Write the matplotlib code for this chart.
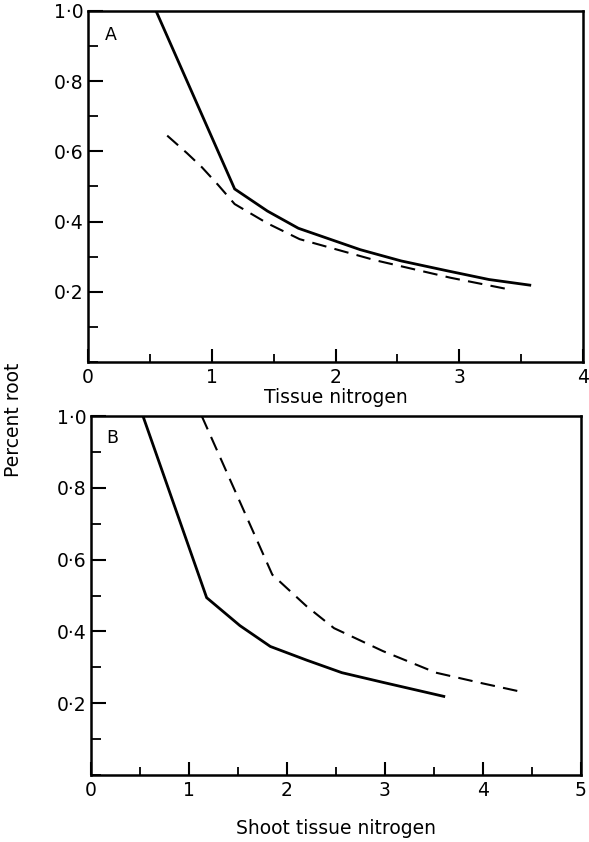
import matplotlib
matplotlib.use("Agg")
import matplotlib.pyplot as plt
from matplotlib.ticker import MultipleLocator, FixedLocator

plt.rcParams['font.family'] = ['DejaVu Sans']

# Panel A data
a_solid_x = [0.55, 1.185, 1.45, 1.70, 2.20, 2.53, 2.90, 3.24, 3.57]
a_solid_y = [1.00, 0.493, 0.430, 0.381, 0.320, 0.288, 0.260, 0.235, 0.219]
a_dash_x = [0.64, 0.80, 0.92, 1.05, 1.185, 1.45, 1.71, 2.32, 2.93, 3.40]
a_dash_y = [0.645, 0.595, 0.555, 0.505, 0.450, 0.395, 0.350, 0.290, 0.240, 0.207]

# Panel B data
b_solid_x = [0.53, 1.18, 1.52, 1.83, 2.20, 2.56, 2.98, 3.60]
b_solid_y = [1.00, 0.494, 0.416, 0.358, 0.320, 0.285, 0.258, 0.219]
b_dash_x = [1.13, 1.85, 2.20, 2.48, 2.98, 3.52, 4.00, 4.42]
b_dash_y = [1.00, 0.558, 0.470, 0.409, 0.345, 0.285, 0.255, 0.230]

y_ticks = [0.2, 0.4, 0.6, 0.8, 1.0]
y_ticklabels = ['0·2', '0·4', '0·6', '0·8', '1·0']

FS = 13.5

fig = plt.figure(figsize=(5.89, 8.42), dpi=100)

def style(ax, xmax, xlabels, label_letter, lx, ly):
    ax.set_xlim(0, xmax)
    ax.set_ylim(0, 1.0)
    for s in ax.spines.values():
        s.set_linewidth(1.8)
    ax.xaxis.set_major_locator(FixedLocator(list(range(0, xmax + 1))))
    ax.xaxis.set_minor_locator(MultipleLocator(0.5))
    ax.set_xticklabels(xlabels)
    ax.yaxis.set_major_locator(FixedLocator(y_ticks))
    ax.yaxis.set_minor_locator(MultipleLocator(0.1))
    ax.set_yticklabels(y_ticklabels)
    ax.tick_params(axis='x', which='major', direction='in', length=9.5,
                   width=1.5, labelsize=FS, pad=4)
    ax.tick_params(axis='x', which='minor', direction='in', length=6, width=1.3)
    ax.tick_params(axis='y', which='major', direction='in', length=11,
                   width=1.5, labelsize=FS, pad=3)
    ax.tick_params(axis='y', which='minor', direction='in', length=7.5, width=1.3)
    ax.text(lx, ly, label_letter, transform=ax.transAxes, fontsize=12.5,
            ha='left', va='top')

# Panel A
axA = fig.add_axes([88/589, 1 - 362/842, (583 - 88)/589, (362 - 11)/842])
axA.plot(a_solid_x, a_solid_y, color='black', lw=2.0, solid_joinstyle='miter')
axA.plot(a_dash_x, a_dash_y, color='black', lw=1.5, dashes=(7, 4))
style(axA, 4, ['0', '1', '2', '3', '4'], 'A', 0.034, 0.957)
axA.set_xlabel('Tissue nitrogen', fontsize=FS, labelpad=1)

# Panel B
axB = fig.add_axes([91/589, 1 - 775/842, (581 - 91)/589, (775 - 416)/842])
axB.plot(b_solid_x, b_solid_y, color='black', lw=2.0, solid_joinstyle='miter')
axB.plot(b_dash_x, b_dash_y, color='black', lw=1.5, dashes=(7, 4))
style(axB, 5, ['0', '1', '2', '3', '4', '5'], 'B', 0.032, 0.963)
axB.set_xlabel('Shoot tissue nitrogen', fontsize=FS, labelpad=14)

fig.text(14/589, 1 - 420/842, 'Percent root', rotation=90, fontsize=FS,
         ha='center', va='center')

fig.savefig('out.png', dpi=100)
